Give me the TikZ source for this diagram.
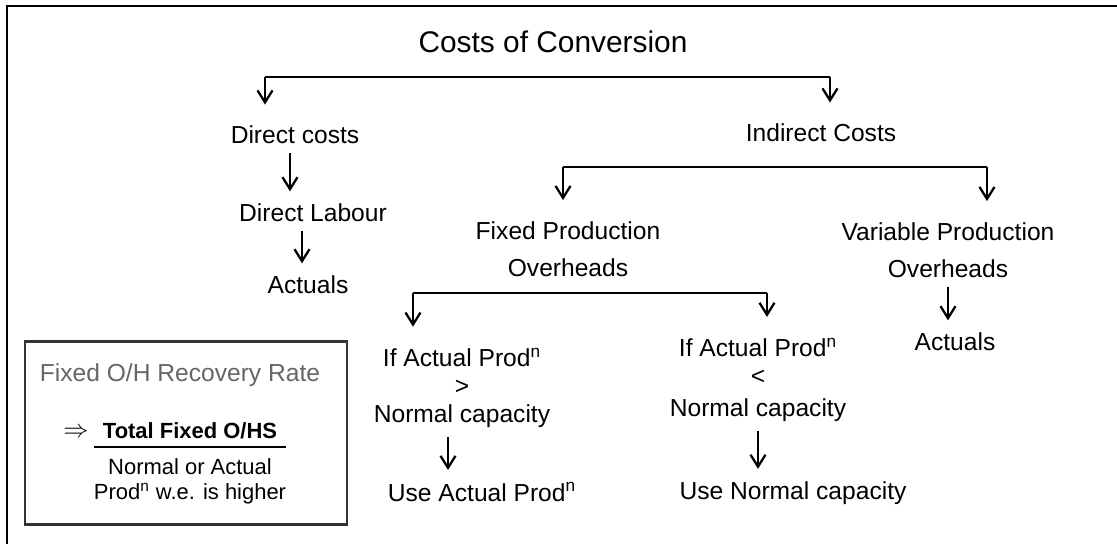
\documentclass[tikz,border=0pt]{standalone}
\usepackage{fontspec}
\setmainfont{Liberation Sans}
\usetikzlibrary{positioning}
\usetikzlibrary{arrows,arrows.meta,shapes}
\usetikzlibrary{calc}

\begin{document}
\begin{tikzpicture}[x=0.02cm,y=-0.02cm,
  txt/.style={inner sep=0pt, align=center, font=\fontsize{14}{16}\selectfont},
  bar/.style={line width=1.6pt},
  arr/.style={-{Straight Barb[length=2.4mm,width=3mm]}, line width=1.3pt, shorten <=5pt, shorten >=7pt},
  drop/.style={-{Straight Barb[length=2.4mm,width=3mm]}, line width=1.3pt, shorten >=12pt}]
\useasboundingbox (0,0) rectangle (1117,544);

% frame
\draw[line width=1pt] (7,544) -- (7,6) -- (1117,6);

% first level
\node[txt, font=\fontsize{17}{19}\selectfont] (cc) at (553,42) {Costs of Conversion};
\node[txt] (dc) at (295,135) {Direct costs};
\node[txt] (ic) at (821,133) {Indirect Costs};

\coordinate (b1l) at (265,77);
\coordinate (b1r) at (830,77);
\draw[bar] (b1l) -- (b1r);
\draw[drop] (b1l) -- (b1l |- dc.north);
\draw[drop] (b1r) -- (b1r |- ic.north);

% direct side
\node[txt] (dl) at (313,213) {Direct Labour};
\node[txt] (da) at (308,285) {Actuals};
\draw[arr] ([xshift=-0.1cm]dc.south) -- ([xshift=-0.1cm]dc.south |- dl.north);
\draw[arr] ([xshift=-0.22cm]dl.south) -- ([xshift=-0.22cm]dl.south |- da.north);

% indirect side
\node[txt] (fo) at (568,249) {Fixed Production\\[5pt]Overheads};
\node[txt] (vo) at (948,250) {Variable Production\\[5pt]Overheads};
\node[txt] (va) at (955,342) {Actuals};

\coordinate (b2l) at (563,167);
\coordinate (b2r) at (987,167);
\draw[bar] (b2l) -- (b2r);
\draw[drop] (b2l) -- (b2l |- fo.north);
\draw[drop] (b2r) -- (b2r |- vo.north);
\draw[arr] (vo.south) -- (vo.south |- va.north);

% fixed overheads
\node[txt] (ia) at (462,388) {If Actual Prod\textsuperscript{n}\\[0pt]\textgreater\\[0pt]Normal capacity};
\node[txt] (ua) at (482,492) {Use Actual Prod\textsuperscript{n}};
\node[txt] (ib) at (758,380) {If Actual Prod\textsuperscript{n}\\[0pt]\textless\\[2pt]Normal capacity};
\node[txt] (ub) at (793,493) {Use Normal capacity};

\coordinate (b3l) at (413,293);
\coordinate (b3r) at (767,293);
\draw[bar] (b3l) -- (b3r);
\draw[drop] (b3l) -- (b3l |- ia.north);
\draw[drop] (b3r) -- (b3r |- ib.north);
\draw[arr] ([xshift=-0.28cm]ia.south) -- ([xshift=-0.28cm]ia.south |- ua.north);
\draw[arr] (ib.south) -- (ib.south |- ub.north);

% recovery rate box
\node[draw, line width=1.6pt, draw=black!80, minimum width=6.44cm, minimum height=3.66cm] (rb) at (186,433) {};
\node[txt, text=black!60] (rr) at (180,375) {Fixed O/H Recovery Rate};
\node[inner sep=0pt, font=\fontsize{15}{17}\selectfont] (im) at (76,433) {$\Rightarrow$};
\node[inner sep=0pt, font=\fontsize{12.5}{14}\selectfont, anchor=north] (fr) at (190,421) {%
  \setlength{\arrayrulewidth}{1.3pt}%
  \renewcommand{\arraystretch}{1.0}%
  \begin{tabular}{@{}c@{}}
  \textbf{Total Fixed O/HS}\\ \hline
  \rule{0pt}{15pt}Normal or Actual\\
  Prod\textsuperscript{n} w.e. is higher
  \end{tabular}};

\end{tikzpicture}
\end{document}
